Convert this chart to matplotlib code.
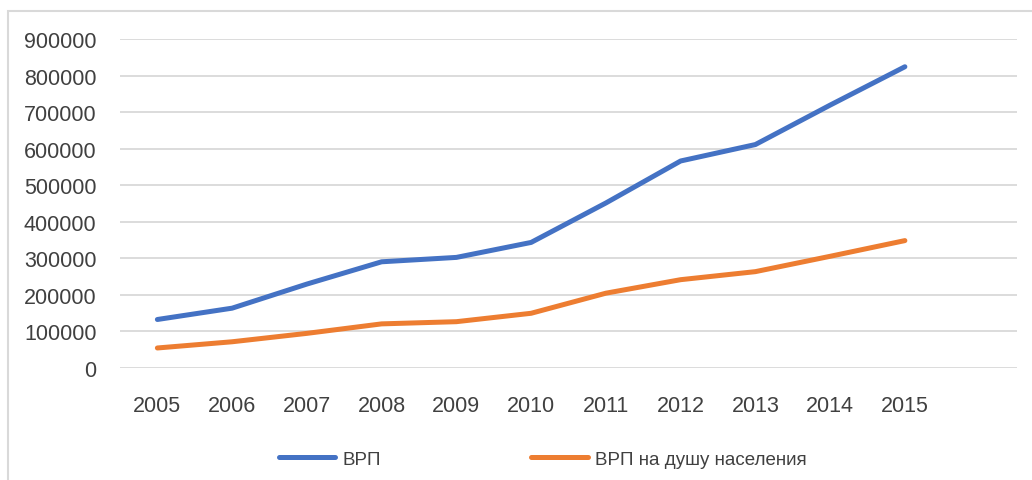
import matplotlib
matplotlib.use("Agg")
from matplotlib import pyplot as plt
from matplotlib.patches import Rectangle

plt.rcParams["font.family"] = ["Liberation Sans", "DejaVu Sans"]

years = ["2005", "2006", "2007", "2008", "2009", "2010",
         "2011", "2012", "2013", "2014", "2015"]
vrp = [132000, 163000, 229000, 290000, 302000, 343000,
       451000, 566000, 611000, 719000, 824000]
vrp_per_capita = [54000, 71000, 94000, 120000, 126000, 149000,
                  204000, 241000, 263000, 305000, 348000]
yticks = [0, 100000, 200000, 300000, 400000, 500000,
          600000, 700000, 800000, 900000]

W, H = 1032, 481
fig = plt.figure(figsize=(W / 100, H / 100), dpi=100)

# chart frame (Excel-like light border)
fig.patches.append(Rectangle((8 / W, -0.1), 1.1, 1 - 12 / H + 0.1,
                             transform=fig.transFigure, fill=False,
                             edgecolor="#d9d9d9", linewidth=1.5))

ax = fig.add_axes([120 / W, 1 - 368.7 / H, (1017 - 120) / W, (368.7 - 40) / H])

x = list(range(len(years)))
l1, = ax.plot(x, vrp, color="#4472C4", linewidth=3.6,
              solid_capstyle="round", solid_joinstyle="round", label="ВРП")
l2, = ax.plot(x, vrp_per_capita, color="#ED7D31", linewidth=3.6,
              solid_capstyle="round", solid_joinstyle="round",
              label="ВРП на душу населения")

ax.set_xlim(-0.5, len(years) + 0.5)
ax.set_ylim(0, 900000)
ax.set_xticks(x)
ax.set_xticklabels(years)
ax.set_yticks(yticks)
ax.set_yticklabels([str(v) for v in yticks])

ax.grid(axis="y", color="#d9d9d9", linewidth=1.3)
ax.set_axisbelow(True)
for s in ax.spines.values():
    s.set_visible(False)
ax.tick_params(axis="both", length=0, labelsize=15.5, labelcolor="#404040")
ax.tick_params(axis="y", pad=17)
ax.tick_params(axis="x", pad=20)

fig.legend(handles=[l1, l2], loc="center", bbox_to_anchor=(543 / W, 1 - 460 / H),
           ncol=2, frameon=False, fontsize=13.5, handlelength=3.0,
           handletextpad=0.4, columnspacing=8.0, labelcolor="#404040")

fig.savefig("out.png", dpi=100)
